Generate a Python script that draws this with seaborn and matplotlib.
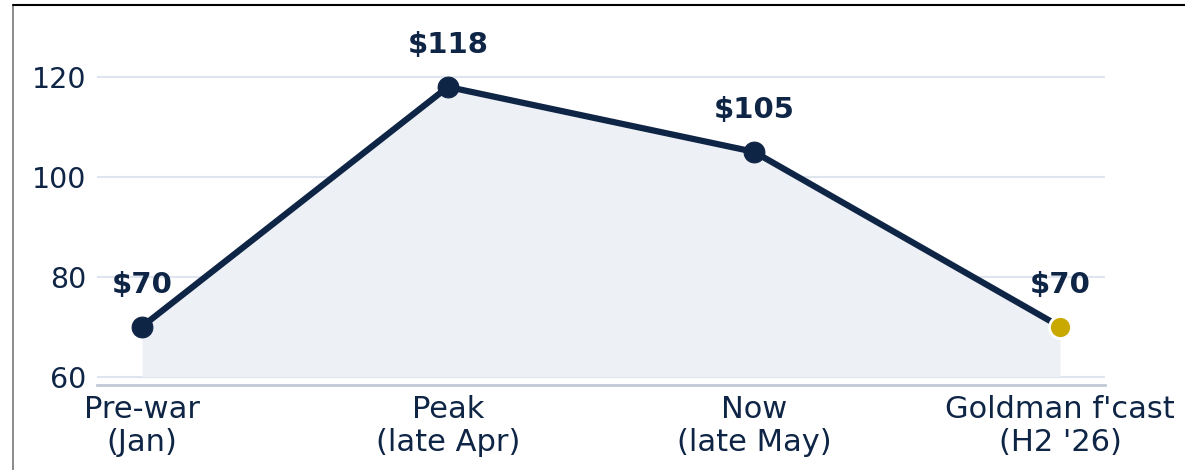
import matplotlib
matplotlib.use("Agg")
import matplotlib.pyplot as plt
from matplotlib.lines import Line2D
import pandas as pd
import seaborn as sns

stages = ["Pre-war\n(Jan)", "Peak\n(late Apr)", "Now\n(late May)", "Goldman f'cast\n(H2 '26)"]
prices = [70, 118, 105, 70]
y_ticks = [60, 80, 100, 120]

NAVY = "#0f2546"
GOLD = "#c9a800"
FILL = "#edf0f5"
GRID = "#dfe5ee"

sns.set_theme(style="white")
plt.rcParams["font.family"] = ["DejaVu Sans"]

df = pd.DataFrame({"stage": stages, "price": prices})

fig = plt.figure(figsize=(11.85, 4.7), dpi=100)
ax = fig.add_axes([97 / 1185, 1 - 385 / 470, (1105 - 97) / 1185, (385 - 27) / 470])

ax.fill_between(range(len(prices)), prices, 60, color=FILL, zorder=1, lw=0)
sns.lineplot(data=df, x="stage", y="price", color=NAVY, lw=4.5, marker="o",
             markersize=15, markeredgecolor=NAVY, sort=False, ax=ax, zorder=3)
sns.scatterplot(data=df.iloc[[-1]], x="stage", y="price", color=GOLD, s=250,
                edgecolor="white", linewidth=2, ax=ax, zorder=4)

for i, p in enumerate(prices):
    ax.annotate(f"${p}", (i, p), xytext=(0, 30), textcoords="offset points",
                ha="center", va="center", fontsize=21, fontweight="bold", color=NAVY)

ax.set_xlim(-0.147, 3.147)
ax.set_ylim(58.3, 130)
ax.set_yticks(y_ticks)
for y in y_ticks:
    ax.axhline(y, color=GRID, lw=1.5, zorder=0)
ax.set_xlabel("")
ax.set_ylabel("")
ax.tick_params(axis="both", length=0, labelcolor=NAVY, pad=8)
ax.tick_params(axis="y", labelsize=20.5)
ax.tick_params(axis="x", labelsize=22, pad=7)
for s in ["left", "right", "top"]:
    ax.spines[s].set_visible(False)
ax.spines["bottom"].set_color("#c3cad5")
ax.spines["bottom"].set_linewidth(2)

# frame edges of the original crop
fig.add_artist(Line2D([13 / 1185, 13 / 1185], [0, 1 - 5 / 470], color="#777777", lw=1.2))
fig.add_artist(Line2D([13 / 1185, 1], [1 - 5 / 470, 1 - 5 / 470], color="black", lw=1.5))

fig.savefig("out.png", dpi=100)
plt.close(fig)
